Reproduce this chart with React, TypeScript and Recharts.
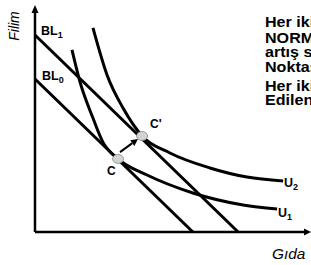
import React from 'react';
import { ComposedChart, Line, XAxis, YAxis, Scatter, ReferenceLine, Customized } from 'recharts';

// budget lines (Gıda on x, Filim on y), arbitrary 0-10 units
const BL0 = [{ x: 0, y: 6.74 }, { x: 5.72, y: 0 }];
const BL1 = [{ x: 0, y: 8.68 }, { x: 7.36, y: 0 }];

// indifference curves
const U1 = [
  { x: 1.34, y: 8.02 }, { x: 1.63, y: 6.61 }, { x: 2.1, y: 5.02 }, { x: 2.46, y: 3.96 },
  { x: 3.01, y: 3.22 }, { x: 4.06, y: 2.51 }, { x: 5.72, y: 1.72 }, { x: 7.54, y: 1.19 }, { x: 8.77, y: 1.01 },
];
const U2 = [
  { x: 2.1, y: 8.99 }, { x: 2.61, y: 6.92 }, { x: 3.19, y: 5.46 }, { x: 3.88, y: 4.23 },
  { x: 4.89, y: 3.48 }, { x: 6.34, y: 2.82 }, { x: 7.68, y: 2.42 }, { x: 8.99, y: 2.25 },
];

// optimum points and the move between them
const OPTIMA = [{ x: 3.01, y: 3.22, name: 'C' }, { x: 3.88, y: 4.23, name: "C'" }];
const SHIFT: [{ x: number; y: number }, { x: number; y: number }] = [{ x: 3.08, y: 3.52 }, { x: 3.73, y: 4.1 }];

// side note, clipped by the right edge like in the slide
const NOTES = ['Her iki', 'NORMAL', 'artış sonucu', 'Noktası', 'Her iki', 'Edilen'];
const NOTE_Y = [27, 43, 57, 72, 91, 105];

const FONT = '"Liberation Sans", Arial, sans-serif';

const Arrow = (props: any) => {
  const { x1, y1, x2, y2, head = 8, half = 3.5, width = 2 } = props;
  const a = Math.atan2(y2 - y1, x2 - x1);
  const bx = x2 - head * Math.cos(a);
  const by = y2 - head * Math.sin(a);
  const px = -Math.sin(a) * half;
  const py = Math.cos(a) * half;
  return (
    <g>
      <line x1={x1} y1={y1} x2={bx} y2={by} stroke="#000" strokeWidth={width} />
      <polygon points={`${x2},${y2} ${bx + px},${by + py} ${bx - px},${by - py}`} fill="#000" />
    </g>
  );
};

// the slide text is a little stretched horizontally
const Texts = () => (
  <g fontFamily={FONT} fill="#000">
    <text transform="translate(18.5,26) rotate(-90)" textAnchor="middle" fontStyle="italic" fontSize={14}>Filim</text>
    <text x={41} y={35} fontWeight="bold" fontSize={12.5}>BL<tspan fontSize={9} dy={3}>1</tspan></text>
    <text x={42} y={80} fontWeight="bold" fontSize={12.5}>BL<tspan fontSize={9} dy={3}>0</tspan></text>
    <text x={107} y={175} fontWeight="bold" fontSize={12}>C</text>
    <text x={150} y={128} fontWeight="bold" fontSize={12}>C'</text>
    <text x={284} y={187} fontWeight="bold" fontSize={12.5}>U<tspan fontSize={9} dy={3}>2</tspan></text>
    <text x={278} y={217} fontWeight="bold" fontSize={12.5}>U<tspan fontSize={9} dy={3}>1</tspan></text>
    <g transform="translate(272,0) scale(1.1,1)">
      <text x={0} y={259} fontStyle="italic" fontSize={14}>Gıda</text>
    </g>
    <g transform="translate(265,0) scale(1.15,1)">
      {NOTES.map((t, i) => (
        <text key={i} x={0} y={NOTE_Y[i]} fontWeight="bold" fontSize={14}>{t}</text>
      ))}
    </g>
  </g>
);

const curve = { stroke: '#000', strokeWidth: 3, dot: false, activeDot: false, isAnimationActive: false } as const;

export default function App() {
  return (
    <div style={{ position: 'absolute', left: 0, top: 0, width: 311, height: 265, overflow: 'hidden', background: '#fff' }}>
      <ComposedChart width={311} height={265} margin={{ top: 5, right: 0, bottom: 33, left: 35 }}>
        <XAxis type="number" dataKey="x" domain={[0, 10]} hide />
        <YAxis type="number" dataKey="y" domain={[0, 10]} hide />
        <ReferenceLine segment={[{ x: 0, y: 0 }, { x: 10, y: 0 }]} ifOverflow="visible" shape={(p: any) => <Arrow {...p} width={2.5} head={7} half={3.5} />} />
        <ReferenceLine segment={[{ x: 0, y: 0 }, { x: 0, y: 10 }]} ifOverflow="visible" shape={(p: any) => <Arrow {...p} width={2.5} head={8} half={3.5} />} />
        <Line data={BL0} dataKey="y" type="linear" {...curve} />
        <Line data={BL1} dataKey="y" type="linear" {...curve} />
        <Line data={U1} dataKey="y" type="monotone" {...curve} />
        <Line data={U2} dataKey="y" type="monotone" {...curve} />
        <ReferenceLine segment={SHIFT} ifOverflow="visible" shape={(p: any) => <Arrow {...p} width={2} head={7} half={3.5} />} />
        <Scatter
          data={OPTIMA}
          dataKey="y"
          isAnimationActive={false}
          shape={(p: any) => <ellipse cx={p.cx} cy={p.cy} rx={5.5} ry={4.5} fill="#d2d2d2" stroke="#8a8a8a" strokeWidth={0.8} />}
        />
        <Customized component={Texts} />
      </ComposedChart>
    </div>
  );
}
